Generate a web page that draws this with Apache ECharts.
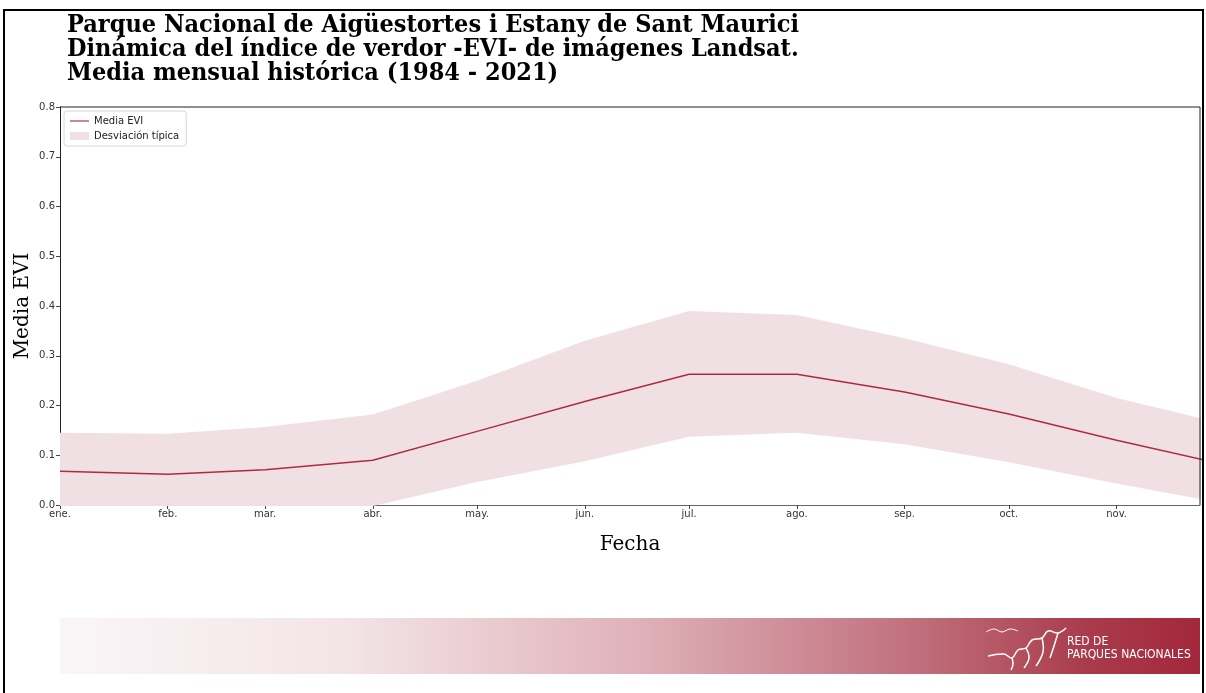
<!DOCTYPE html>
<html>
<head>
<meta charset="utf-8">
<script src="https://cdn.jsdelivr.net/npm/echarts@6/dist/echarts.min.js"></script>
<style>
  html, body { margin: 0; padding: 0; background: #fff; }
  #chart { width: 1206px; height: 693px; }
</style>
</head>
<body>
<div id="chart"></div>
<script>
// fechas de cada media mensual (primer dia de mes)
var fechas = ['2021-01-01', '2021-02-01', '2021-03-01', '2021-04-01', '2021-05-01', '2021-06-01',
              '2021-07-01', '2021-08-01', '2021-09-01', '2021-10-01', '2021-11-01', '2021-12-01'];
var meses = ['ene.', 'feb.', 'mar.', 'abr.', 'may.', 'jun.', 'jul.', 'ago.', 'sep.', 'oct.', 'nov.', 'dic.'];
var mediaEVI = [0.068, 0.062, 0.071, 0.090, 0.148, 0.208, 0.263, 0.263, 0.227, 0.183, 0.130, 0.083];
var bandaSup = [0.145, 0.143, 0.157, 0.182, 0.250, 0.330, 0.390, 0.382, 0.335, 0.283, 0.215, 0.165];
var bandaInf = [-0.009, -0.019, -0.015, -0.002, 0.046, 0.088, 0.137, 0.145, 0.122, 0.086, 0.043, 0.004];
var ticksY = [0, 0.1, 0.2, 0.3, 0.4, 0.5, 0.6, 0.7, 0.8];

var colorLinea = '#b02a3e';
var colorBanda = '#f0e0e4';

var chart = echarts.init(document.getElementById('chart'));

function pares(vals) {
    return fechas.map(function (f, i) { return [f, vals[i]]; });
}
var ancho = bandaSup.map(function (v, i) { return v - bandaInf[i]; });

var option = {
    animation: false,
    backgroundColor: '#fff',
    title: {
        text: 'Parque Nacional de Aigüestortes i Estany de Sant Maurici\nDinámica del índice de verdor -EVI- de imágenes Landsat.\nMedia mensual histórica (1984 - 2021)',
        left: 62,
        top: 8,
        textStyle: {
            fontFamily: 'DejaVu Serif Condensed',
            fontWeight: 'bold',
            fontSize: 25,
            lineHeight: 24,
            color: '#000'
        }
    },
    legend: {
        orient: 'vertical',
        left: 64,
        top: 111,
        itemWidth: 19,
        itemHeight: 8,
        itemGap: 5,
        padding: [5, 7, 5, 6],
        borderColor: '#d6d6d6',
        borderWidth: 1,
        borderRadius: 3,
        backgroundColor: '#fff',
        textStyle: { fontFamily: 'DejaVu Sans', fontSize: 10, color: '#222' },
        data: [
            { name: 'Media EVI', icon: 'path://M0,0h20v1.2h-20z' },
            { name: 'Desviación típica', icon: 'rect' }
        ]
    },
    grid: { left: 60, right: 6, top: 107, bottom: 188, containLabel: false },
    xAxis: {
        type: 'time',
        min: '2021-01-01',
        max: '2021-11-25',
        minInterval: 28 * 86400000,
        maxInterval: 31 * 86400000,
        name: 'Fecha',
        nameLocation: 'middle',
        nameGap: 30,
        nameTextStyle: { fontFamily: 'DejaVu Serif', fontSize: 20, color: '#000' },
        axisLine: { lineStyle: { color: '#666', width: 1 } },
        axisTick: { show: true, length: 4, lineStyle: { color: '#444' } },
        splitLine: { show: false },
        axisLabel: {
            fontFamily: 'DejaVu Sans',
            fontSize: 10,
            color: '#333',
            margin: 4,
            formatter: function (v) { return meses[new Date(v).getMonth()]; }
        }
    },
    yAxis: {
        type: 'value',
        min: ticksY[0],
        max: ticksY[ticksY.length - 1],
        interval: 0.1,
        name: 'Media EVI',
        nameLocation: 'middle',
        nameGap: 27,
        nameMoveOverlap: false,
        nameTextStyle: { fontFamily: 'DejaVu Serif', fontSize: 20, color: '#000' },
        axisLine: { show: true, lineStyle: { color: '#222', width: 1 } },
        axisTick: { show: true, length: 4, lineStyle: { color: '#444' } },
        splitLine: { show: false },
        axisLabel: {
            fontFamily: 'DejaVu Sans',
            fontSize: 10,
            color: '#333',
            margin: 5,
            formatter: function (v) { return v.toFixed(1); }
        }
    },
    series: [
        {
            name: 'inf',
            type: 'line',
            stack: 'banda',
            stackStrategy: 'all',
            data: pares(bandaInf),
            showSymbol: false,
            lineStyle: { opacity: 0 },
            silent: true
        },
        {
            name: 'Desviación típica',
            type: 'line',
            stack: 'banda',
            stackStrategy: 'all',
            data: pares(ancho),
            showSymbol: false,
            itemStyle: { color: colorBanda },
            lineStyle: { opacity: 0 },
            areaStyle: { color: colorBanda, opacity: 1 },
            silent: true
        },
        {
            name: 'Media EVI',
            type: 'line',
            data: pares(mediaEVI),
            showSymbol: false,
            itemStyle: { color: colorLinea },
            lineStyle: { color: colorLinea, width: 1.5 },
            z: 5
        }
    ],
    graphic: [
        // marco de la figura
        { type: 'rect', shape: { x: 4, y: 10, width: 1199, height: 700 },
          style: { fill: 'none', stroke: '#000', lineWidth: 2 }, silent: true },
        // bordes superior y derecho del area de trazado
        { type: 'polyline', shape: { points: [[60, 107], [1200, 107], [1200, 505]] },
          style: { fill: 'none', stroke: '#222', lineWidth: 1 }, z: 10, silent: true },
        // banda inferior
        { type: 'rect', shape: { x: 60, y: 618, width: 1140, height: 56 },
          style: { fill: new echarts.graphic.LinearGradient(0, 0, 1, 0, [
              { offset: 0, color: '#faf6f7' },
              { offset: 0.25, color: '#f3e4e7' },
              { offset: 0.5, color: '#e0b3ba' },
              { offset: 0.75, color: '#c0707d' },
              { offset: 0.9, color: '#a93c4c' },
              { offset: 1, color: '#a3273b' }
          ]) }, silent: true, z: 1 },
        // logo simplificado
        { type: 'polyline', silent: true, z: 2,
          shape: { points: [[986, 632], [994, 629], [1002, 632], [1010, 629], [1018, 631]], smooth: 0.4 },
          style: { fill: 'none', stroke: '#fff', lineWidth: 1 } },
        { type: 'polyline', silent: true, z: 2,
          shape: { points: [[988, 656], [1004, 654], [1012, 658], [1018, 650], [1026, 648], [1032, 640], [1042, 638], [1048, 631], [1058, 633], [1066, 628]], smooth: 0.4 },
          style: { fill: 'none', stroke: '#fff', lineWidth: 1.5 } },
        { type: 'polyline', silent: true, z: 2,
          shape: { points: [[1012, 658], [1013, 664], [1011, 670]], smooth: 0.4 },
          style: { fill: 'none', stroke: '#fff', lineWidth: 1.5 } },
        { type: 'polyline', silent: true, z: 2,
          shape: { points: [[1026, 648], [1029, 658], [1024, 668]], smooth: 0.4 },
          style: { fill: 'none', stroke: '#fff', lineWidth: 1.5 } },
        { type: 'polyline', silent: true, z: 2,
          shape: { points: [[1042, 638], [1043, 652], [1036, 666]], smooth: 0.4 },
          style: { fill: 'none', stroke: '#fff', lineWidth: 1.5 } },
        { type: 'polyline', silent: true, z: 2,
          shape: { points: [[1058, 633], [1054, 646], [1050, 658]], smooth: 0.4 },
          style: { fill: 'none', stroke: '#fff', lineWidth: 1.5 } },
        { type: 'text', left: 1067, top: 635, silent: true, z: 2,
          style: { text: 'RED DE\nPARQUES NACIONALES', fill: '#fff', font: '12px "Liberation Sans Narrow", "DejaVu Sans Condensed", sans-serif', lineHeight: 13 } }
    ]
};

chart.setOption(option);
</script>
</body>
</html>
